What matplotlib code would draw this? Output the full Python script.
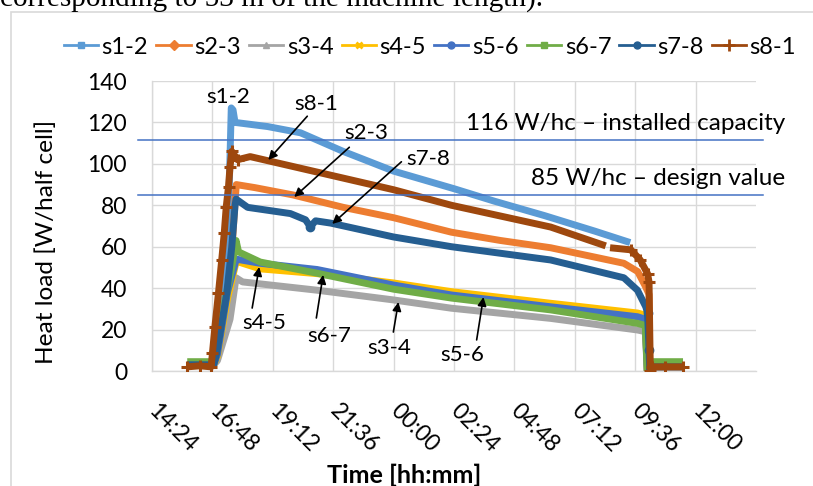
import numpy as np
import matplotlib
matplotlib.use("Agg")
import matplotlib.pyplot as plt
from matplotlib.patches import Rectangle

plt.rcParams['font.family'] = ['Lato', 'DejaVu Sans']

# ---------------- data (time in hours since midnight of day 1) ----------------
nan = np.nan
series_names = ["s1-2", "s2-3", "s3-4", "s4-5", "s5-6", "s6-7", "s7-8", "s8-1"]
colors = ["#5B9BD5", "#ED7D31", "#A5A5A5", "#FFC000", "#4472C4", "#70AD47", "#255E91", "#9E480E"]
markers = ["s", "D", "^", "x", "o", "s", "o", "+"]

t_s12 = [15.8, 16.85, 17.0, 17.3, 17.45, 17.55, 17.62, 17.7, 19.0, 20.3, 22.0, 24.0, 26.4, 28.0, 30.0, 32.0, 33.4]
v_s12 = [3, 3, 10, 37, 80, 127, 126, 120, 118, 115, 106, 96.5, 88, 82, 75, 67.5, 62]

t_s23 = [15.8, 16.85, 17.1, 17.5, 17.72, 17.75, 18.5, 20.0, 22.0, 24.0, 26.3, 28.25, 30.24, 33.15, 33.7, 34.0, 34.15, 34.18, 34.25, 35.5]
v_s23 = [3, 3, 12, 45, 85, 90, 88.5, 85, 79, 74, 67, 63, 59.5, 52, 48, 41, 37, 0, 2, 2]

t_s34 = [15.8, 16.85, 17.0, 17.5, 17.74, 18.0, 20.96, 24.0, 26.3, 30.24, 33.69, 34.0, 34.08, 34.25, 35.5]
v_s34 = [3, 3, 5, 25, 45, 43, 39, 34.3, 30.3, 25.4, 19.8, 19, 0, 2, 2]

t_s45 = [15.8, 16.85, 17.0, 17.4, 17.75, 18.0, 18.7, 20.96, 24.0, 26.3, 30.24, 33.69, 34.0, 34.08, 34.25, 35.5]
v_s45 = [3, 3, 7, 35, 53, 52, 49.3, 47, 42.5, 38.3, 32.7, 28, 27, 0, 3, 3]

t_s56 = [15.8, 16.85, 17.0, 17.4, 17.75, 18.7, 20.96, 24.0, 26.3, 30.24, 33.69, 34.0, 34.08, 34.25, 35.5]
v_s56 = [3, 3, 8, 38, 54, 52, 49, 41.5, 36.7, 31, 26.2, 25, 0, 3, 3]

t_s67 = [15.8, 16.85, 16.91, 17.3, 17.57, 17.74, 17.84, 18.7, 20.96, 24.0, 26.3, 30.24, 33.69, 34.0, 34.08, 34.25, 35.5]
v_s67 = [4.5, 4.5, 8.5, 34, 50, 63, 57.5, 52.6, 47.2, 39.5, 35.2, 29.5, 23, 22, 0, 4.5, 4.5]

t_s78 = [15.8, 16.85, 16.97, 17.37, 17.57, 17.7, 17.74, 18.2, 19.9, 20.5, 20.69, 20.9, 21.5, 24.0, 26.3, 30.24, 33.15, 33.69, 34.02, 34.09, 34.15, 34.18, 34.25, 35.5]
v_s78 = [3, 3, 8.5, 37.5, 60, 80, 83, 79, 76, 73, 69.6, 72.5, 71.4, 64.7, 60, 53.6, 45, 39, 31, 28, 10, 0, 2, 2]

t_s81 = [15.8, 16.3, 16.75, 16.8, 16.9, 17.04, 17.17, 17.27, 17.35, 17.44, 17.5, 17.57, 17.8, 18.3, 24.0, 26.3, 30.24, 32.43, 32.5, 32.6, 33.43, 33.8, 34.09, 34.15, 34.2, 34.25, 34.8, 35.5]
v_s81 = [2, 2.5, 2, 8.5, 21.4, 37.5, 53.6, 66.5, 79.3, 89, 98.6, 106, 102, 103.5, 87.5, 80, 69.5, 60.4, nan, 59.5, 58.5, 53.6, 47, 43, 0, 2, 2, 2]

series_t = [t_s12, t_s23, t_s34, t_s45, t_s56, t_s67, t_s78, t_s81]
series_v = [v_s12, v_s23, v_s34, v_s45, v_s56, v_s67, v_s78, v_s81]

ref_values = [111.5, 85]
ref_labels = ["116 W/hc \u2013 installed capacity", "85 W/hc \u2013 design value"]

tick_hours = [14.4, 16.8, 19.2, 21.6, 24.0, 26.4, 28.8, 31.2, 33.6, 36.0]
tick_labels = ["14:24", "16:48", "19:12", "21:36", "00:00", "02:24", "04:48", "07:12", "09:36", "12:00"]
y_ticks = [0, 20, 40, 60, 80, 100, 120, 140]

# annotations: label, text position (h, value), arrow tail, arrow head (None => no arrow)
annotations = [
    ("s1-2", (17.42, 132.3), None, None),
    ("s8-1", (20.93, 128.9), (20.57, 123.0), (19.02, 101.9)),
    ("s2-3", (22.92, 114.9), (22.24, 108.0), (20.05, 84.0)),
    ("s7-8", (25.39, 102.4), (24.31, 101.0), (21.56, 71.0)),
    ("s4-5", (18.86, 23.2), (18.38, 30.4), (18.66, 50.2)),
    ("s6-7", (21.44, 16.9), (20.93, 25.6), (21.20, 46.4)),
    ("s3-4", (23.83, 11.1), (23.99, 18.8), (24.19, 33.3)),
    ("s5-6", (26.74, 7.7), (27.30, 15.0), (27.57, 35.7)),
]

caption = "corresponding to 53 m of the machine length)."

# ---------------- figure ----------------
W, H = 813, 486
fig = plt.figure(figsize=(W / 100, H / 100), dpi=100)
ax = fig.add_axes([152 / W, 1 - 371 / H, (756 - 152) / W, (371 - 81) / H])
renderer = fig.canvas.get_renderer()


def size_for(text, target_px, family=None, weight="normal", base=15.0):
    t = fig.text(0, 0, text, fontsize=base, fontweight=weight,
                 **({"family": family} if family else {}))
    w = t.get_window_extent(renderer).width
    t.remove()
    return base * target_px / w


tick_fs = size_for("140", 40)
annot_fs = size_for("s8-1", 44)
ref_fs = size_for(ref_labels[0], 320)
ylabel_fs = size_for("Heat load [W/half cell]", 245)
xlabel_fs = size_for("Time [hh:mm]", 155, weight="bold")
cap_fs = size_for(caption, 545, family="Liberation Serif")

# chart-area border (Excel)
fig.add_artist(Rectangle((11 / W, -0.2), 1.2, 1.2 - 12 / H, transform=fig.transFigure,
                         fill=False, edgecolor="#d9d9d9", lw=1.2))

# top caption fragment (from the page)
fig.text(0.0, 1 - 7 / H, caption, family="Liberation Serif", fontsize=cap_fs,
         ha="left", va="baseline")

# which vertices show a marker (ramp / steps where the Excel markers stand out)
mark_idx = {
    "s1-2": [], "s2-3": [], "s3-4": [], "s4-5": [], "s5-6": [], "s6-7": [],
    "s7-8": [10, 19, 20],
    "s8-1": list(range(0, 13)) + list(range(20, 28)),
}

handles = []
for name, c, m, t, v in zip(series_names, colors, markers, series_t, series_v):
    ms = 9 if m == "+" else 6
    mew = 2.2 if m in ("+", "x") else 1
    ax.plot(t, v, color=c, lw=5, marker=m, ms=ms, mew=mew, mfc=c, mec=c,
            markevery=mark_idx[name], solid_joinstyle="round",
            solid_capstyle="butt", zorder=3)
    h, = ax.plot([], [], color=c, lw=2, marker=m, ms=5 if m != "+" else 8,
                 mew=2 if m in ("+", "x") else 1, mfc=c, mec=c)
    handles.append(h)

x0, x1 = 14.4, 38.4
px_per_h = (756 - 152) / (x1 - x0)
for val in ref_values:
    ax.plot([x0 - 14 / px_per_h, x0 + (763 - 152) / px_per_h], [val, val],
            color="#4472C4", lw=1.1, clip_on=False, zorder=4)

for lab, val in zip(ref_labels, ref_values):
    ax.text(x0 + (785 - 152) / px_per_h, val + 8, lab, ha="right", va="center",
            fontsize=ref_fs, clip_on=False, zorder=6)

for lab, tpos, tail, head in annotations:
    ax.text(tpos[0], tpos[1], lab, ha="center", va="center", fontsize=annot_fs, zorder=6)
    if tail is not None:
        ax.annotate("", xy=head, xytext=tail,
                    arrowprops=dict(arrowstyle="-|>", color="black", lw=1.2,
                                    mutation_scale=13, shrinkA=0, shrinkB=0),
                    zorder=6)

ax.set_xlim(x0, x1)
ax.set_ylim(0, 140)
ax.set_xticks(tick_hours)
ax.set_xticklabels(tick_labels, rotation=-45, ha="left", va="center",
                   rotation_mode="anchor", fontsize=tick_fs)
ax.set_yticks(y_ticks)
ax.set_yticklabels([str(y) for y in y_ticks], fontsize=tick_fs)
ax.tick_params(axis="both", length=0)
ax.tick_params(axis="y", pad=18)
ax.tick_params(axis="x", pad=26.5)
ax.grid(True, color="#d9d9d9", lw=1)
ax.set_axisbelow(True)
for s in ["top", "right"]:
    ax.spines[s].set_visible(False)
for s in ["left", "bottom"]:
    ax.spines[s].set_color("#d9d9d9")
    ax.spines[s].set_linewidth(1)

ax.set_ylabel("Heat load [W/half cell]", fontsize=ylabel_fs)
ax.yaxis.set_label_coords(-0.157, 0.445)
ax.set_xlabel("Time [hh:mm]", fontsize=xlabel_fs, fontweight="bold", va="top")
ax.xaxis.set_label_coords(0.418, -0.318)

# legend: scale the font so that the row spans the same width as in the reference
legend_fs = tick_fs
leg = None
for _ in range(4):
    if leg is not None:
        leg.remove()
    leg = fig.legend(handles, series_names, loc="center",
                     bbox_to_anchor=(430 / W, 1 - 47 / H), ncol=8, frameon=False,
                     fontsize=legend_fs, handlelength=1.45, handletextpad=0.15,
                     columnspacing=0.35, borderpad=0.0, borderaxespad=0.0)
    lw_px = leg.get_window_extent(renderer).width
    legend_fs *= 730.0 / lw_px

fig.savefig("out.png", dpi=100)
